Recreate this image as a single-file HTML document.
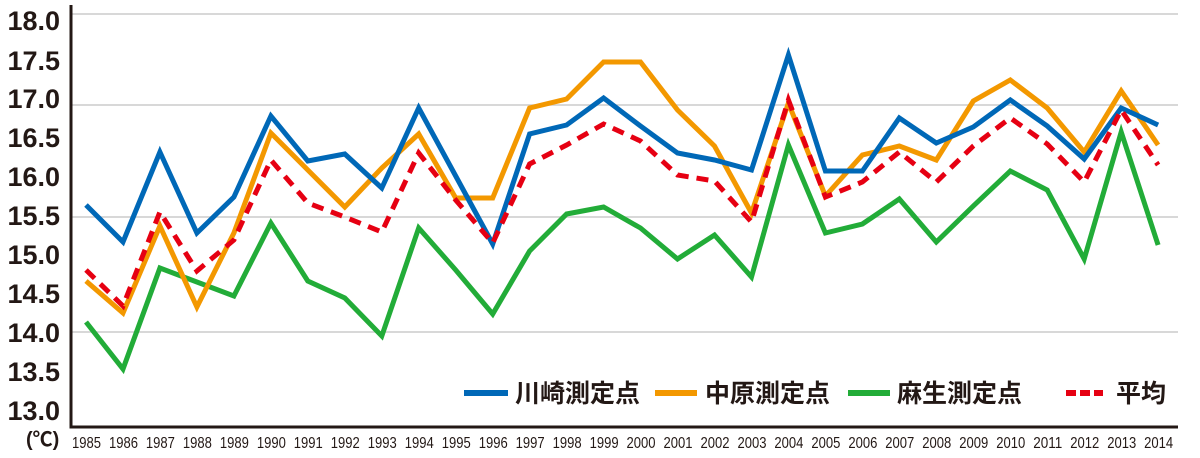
<!DOCTYPE html>
<html><head><meta charset="utf-8"><style>
body{margin:0;background:#fff}
svg{display:block}
.yl{font:bold 27px "Liberation Sans","Noto Sans CJK JP",sans-serif;fill:#231815}
.xl{font:16px "Liberation Sans Narrow","Liberation Sans",sans-serif;fill:#231815}
.lg{font:bold 25px "Liberation Sans","Noto Sans CJK JP",sans-serif;fill:#231815}
</style></head><body>
<svg width="1200" height="458" xmlns="http://www.w3.org/2000/svg">
<g stroke="#ccc" stroke-width="1.5">
<line x1="72" y1="14" x2="1178" y2="14"/>
<line x1="72" y1="105" x2="1178" y2="105"/>
<line x1="72" y1="217" x2="1178" y2="217"/>
<line x1="72" y1="332" x2="1178" y2="332"/>
</g>
<polyline points="71,5 71,427 1178,427" fill="none" stroke="#231815" stroke-width="3"/>
<g class="yl" text-anchor="end">
<text x="60" y="30">18.0</text><text x="60" y="70">17.5</text><text x="60" y="108">17.0</text><text x="60" y="147">16.5</text><text x="60" y="186">16.0</text><text x="60" y="225">15.5</text><text x="60" y="264">15.0</text><text x="60" y="303">14.5</text><text x="60" y="342">14.0</text><text x="60" y="381">13.5</text><text x="60" y="420">13.0</text>
</g>
<text x="26" y="446" style="font:bold 20px 'Liberation Sans','Noto Sans CJK JP',sans-serif" fill="#231815">(℃)</text>
<g class="xl" id="xl"></g>
<g fill="none" stroke-width="5" stroke-linejoin="miter">
<polyline id="g" stroke="#22ac38"/>
<polyline id="o" stroke="#f39800"/>
<polyline id="b" stroke="#0068b7"/>
<polyline id="r" stroke="#e60012" stroke-dasharray="12,8"/>
</g>
<line x1="464" y1="393" x2="508" y2="393" stroke="#0068b7" stroke-width="6"/>
<text class="lg" x="515" y="402">川崎測定点</text>
<line x1="655" y1="393" x2="697" y2="393" stroke="#f39800" stroke-width="6"/>
<text class="lg" x="705" y="402">中原測定点</text>
<line x1="848" y1="393" x2="890" y2="393" stroke="#22ac38" stroke-width="6"/>
<text class="lg" x="897" y="402">麻生測定点</text>
<line x1="1066" y1="393" x2="1103" y2="393" stroke="#e60012" stroke-width="6" stroke-dasharray="10,4"/>
<text class="lg" x="1116" y="402">平均</text>
</svg>
<script>
var b=[205,242,152,233,197,116,161,154,188,108,176,244,134,125,98,126,153,160,170,55,171,171,118,143,127,100,126,159,108,125];
var o=[281,313,226,307,233,133,170,207,168,134,198,198,108,99,62,62,110,146,213,103,196,155,146,160,101,80,108,152,91,145];
var g=[322,369,268,282,296,223,281,298,336,228,270,314,251,214,207,228,259,235,277,145,233,224,199,242,206,171,190,259,132,245];
var r=[270,306,212,271,240,160,203,217,232,153,200,243,164,145,124,141,175,181,222,100,197,182,152,182,146,118,144,182,110,165];
function p(a){return a.map(function(y,i){return (86+i*36.97).toFixed(1)+","+y}).join(" ")}
document.getElementById("b").setAttribute("points",p(b));
document.getElementById("o").setAttribute("points",p(o));
document.getElementById("g").setAttribute("points",p(g));
document.getElementById("r").setAttribute("points",p(r));
var xl=document.getElementById("xl"),s="";
for(var i=0;i<30;i++){s+='<text x="'+(86+i*36.97-14).toFixed(1)+'" y="448" textLength="29" lengthAdjust="spacingAndGlyphs">'+(1985+i)+'</text>';}
xl.innerHTML=s;
</script>
</body></html>
